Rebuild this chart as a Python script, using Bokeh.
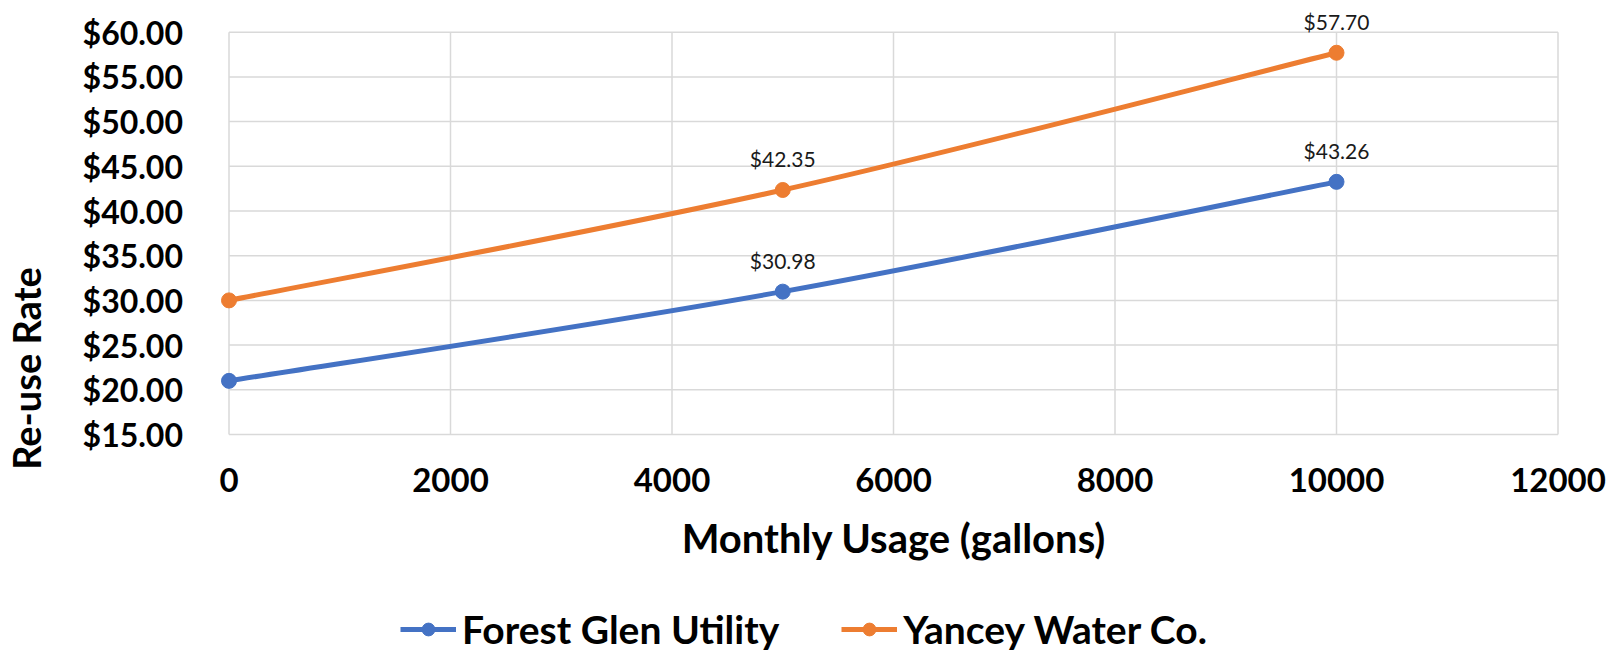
import math
from bokeh.plotting import figure
from bokeh.models import (ColumnDataSource, LabelSet, Label, Legend, LegendItem, Range1d,
                          FixedTicker, NumeralTickFormatter)
from bokeh.core.properties import value
from bokeh.embed import file_html
from bokeh.resources import INLINE

# ---- data ----
usage = [0, 5000, 10000]
forest_glen = [21.00, 30.98, 43.26]
yancey = [30.00, 42.35, 57.70]
series_names = ["Forest Glen Utility", "Yancey Water Co."]
colors = ["#4472C4", "#ED7D31"]
label_idx = [1, 2]  # points carrying data labels
x_ticks = [0, 2000, 4000, 6000, 8000, 10000, 12000]
y_ticks = [15, 20, 25, 30, 35, 40, 45, 50, 55, 60]

FONT = "Lato"
GRID = "#d9d9d9"

# ---- layout (pixels on the canvas) ----
W, H = 1623, 651
PX_L, PX_R = 228.5, 1557.5   # plot-area left / right
PX_T, PX_B = 31.7, 434.0     # plot-area top / bottom

xs_per_px = (x_ticks[-1] - x_ticks[0]) / (PX_R - PX_L)
ys_per_px = (y_ticks[-1] - y_ticks[0]) / (PX_B - PX_T)
x_range = Range1d(x_ticks[0] - PX_L * xs_per_px, x_ticks[-1] + (W - PX_R) * xs_per_px)
y_range = Range1d(y_ticks[0] - (H - PX_B) * ys_per_px, y_ticks[-1] + PX_T * ys_per_px)

p = figure(width=W, height=H, output_backend="svg", toolbar_location=None,
           x_range=x_range, y_range=y_range,
           min_border_left=0, min_border_right=0, min_border_top=0, min_border_bottom=0)
p.background_fill_color = "white"
p.border_fill_color = "white"
p.outline_line_color = None
p.grid.visible = False

# gridlines restricted to the plot area
p.segment(x0=x_ticks, y0=[y_ticks[0]] * len(x_ticks), x1=x_ticks,
          y1=[y_ticks[-1]] * len(x_ticks), line_color=GRID, line_width=1.5)
p.segment(x0=[x_ticks[0]] * len(y_ticks), y0=y_ticks, x1=[x_ticks[-1]] * len(y_ticks),
          y1=y_ticks, line_color=GRID, line_width=1.5)


def smooth_segments(xs, ys):
    """Excel-style smoothed line: cubic Bezier segments through the data points."""
    n = len(xs)
    segs = dict(x0=[], y0=[], x1=[], y1=[], cx0=[], cy0=[], cx1=[], cy1=[])
    for i in range(n - 1):
        xa, ya = xs[max(i - 1, 0)], ys[max(i - 1, 0)]
        xb, yb = xs[i], ys[i]
        xc, yc = xs[i + 1], ys[i + 1]
        xd, yd = xs[min(i + 2, n - 1)], ys[min(i + 2, n - 1)]
        segs["x0"].append(xb); segs["y0"].append(yb)
        segs["x1"].append(xc); segs["y1"].append(yc)
        segs["cx0"].append(xb + (xc - xa) / 6); segs["cy0"].append(yb + (yc - ya) / 6)
        segs["cx1"].append(xc - (xd - xb) / 6); segs["cy1"].append(yc - (yd - yb) / 6)
    return segs


items = []
for name, ys, col in zip(series_names, [forest_glen, yancey], colors):
    seg_src = ColumnDataSource(smooth_segments(usage, ys))
    bz = p.bezier(x0="x0", y0="y0", x1="x1", y1="y1", cx0="cx0", cy0="cy0",
                  cx1="cx1", cy1="cy1", source=seg_src, line_color=col, line_width=5)
    src = ColumnDataSource(dict(x=usage, y=ys))
    sc = p.scatter("x", "y", source=src, size=15, fill_color=col, line_color=col)
    lab_src = ColumnDataSource(dict(x=[usage[i] for i in label_idx],
                                    y=[ys[i] for i in label_idx],
                                    t=["${:.2f}".format(ys[i]) for i in label_idx]))
    p.add_layout(LabelSet(x="x", y="y", text="t", source=lab_src, y_offset=31,
                          text_align="center", text_baseline="middle",
                          text_font=value(FONT), text_font_size="21px", text_color="#1a1a1a"))
    items.append(LegendItem(label=name, renderers=[bz, sc]))

# axes, pinned to the plot-area edges
p.xaxis.ticker = FixedTicker(ticks=x_ticks)
p.yaxis.ticker = FixedTicker(ticks=y_ticks)
p.yaxis.formatter = NumeralTickFormatter(format="$0.00")
p.xaxis.fixed_location = y_ticks[0]
p.yaxis.fixed_location = x_ticks[0]
p.xaxis.bounds = (x_ticks[0], x_ticks[-1])
p.yaxis.bounds = (y_ticks[0], y_ticks[-1])
for ax in (p.xaxis[0], p.yaxis[0]):
    ax.axis_line_color = None
    ax.major_tick_line_color = None
    ax.minor_tick_line_color = None
    ax.major_tick_in = 0
    ax.major_tick_out = 0
    ax.major_label_text_font = FONT
    ax.major_label_text_font_style = "bold"
    ax.major_label_text_color = "black"
    ax.axis_label_text_font = FONT
    ax.axis_label_text_font_style = "bold"
    ax.axis_label_text_color = "black"
p.yaxis.major_label_text_font_size = "32px"
p.yaxis.major_label_standoff = 46
p.xaxis.major_label_text_font_size = "33px"
p.xaxis.axis_label = "Monthly Usage (gallons)"
p.xaxis.axis_label_text_font_size = "40px"
p.xaxis.major_label_standoff = 33
p.xaxis.axis_label_standoff = 19

# value-axis title
p.add_layout(Label(x=25.5, y=H - 368, x_units="screen", y_units="screen",
                   text="Re-use Rate", angle=math.pi / 2, text_align="center",
                   text_baseline="middle", text_font=FONT, text_font_style="bold",
                   text_font_size="38px", text_color="black"))

legend = Legend(items=items, orientation="horizontal", location=(400, -1),
                padding=0, margin=0, spacing=62, label_standoff=6,
                glyph_width=56, glyph_height=32, border_line_color=None,
                background_fill_alpha=0,
                label_text_font=FONT, label_text_font_style="bold",
                label_text_font_size="39px", label_text_color="black")
p.add_layout(legend)

open("out.html", "w").write(file_html(p, INLINE))
